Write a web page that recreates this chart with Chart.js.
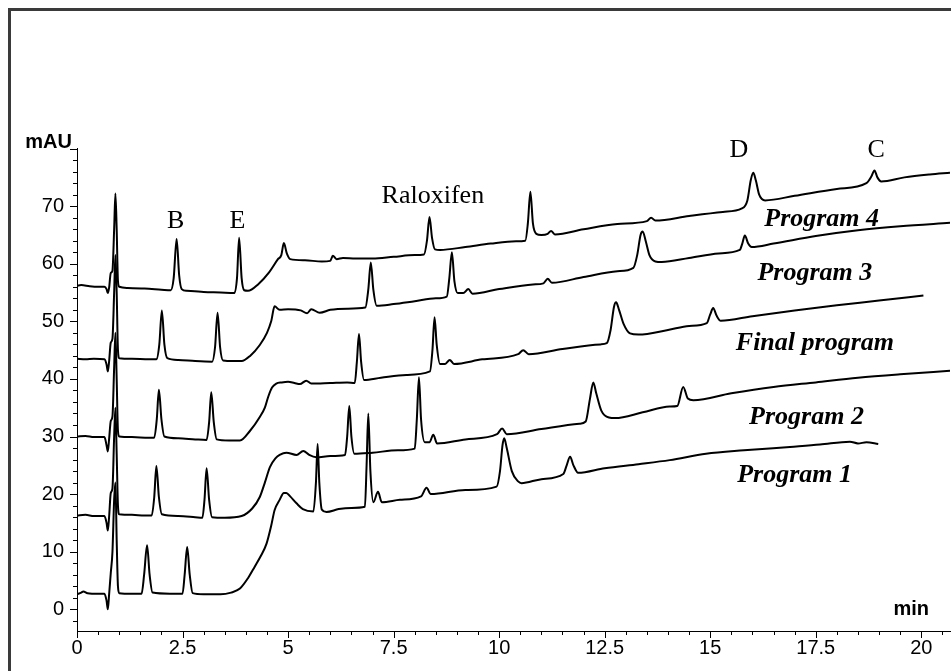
<!DOCTYPE html>
<html>
<head>
<meta charset="utf-8">
<script src="https://cdn.jsdelivr.net/npm/chart.js@4.4.1/dist/chart.umd.min.js"></script>
<style>
  html, body { margin: 0; padding: 0; background: #fff; }
  canvas { display: block; }
</style>
</head>
<body>
<canvas id="chroma" width="951" height="671"></canvas>
<script>
// --- DATA (time in min, signal in mAU) ---
const program4 = [
  [0, 56.2], [0.1, 56.3], [0.3, 56.1], [0.5, 56.0], [0.65, 56.0], [0.7, 55.6], [0.73, 54.9], [0.76, 55.8],
  [0.8, 58.4], [0.84, 58.8], [0.88, 66], [0.91, 72.2], [0.94, 66], [0.97, 57], [1.0, 56.0], [1.2, 55.8],
  [1.6, 55.7], [2.0, 55.5], [2.22, 55.4], [2.29, 57.5], [2.36, 64.3], [2.42, 58], [2.48, 55.6], [2.6, 55.3],
  [3.0, 55.1], [3.4, 55.0], [3.72, 54.9], [3.79, 57.5], [3.84, 64.5], [3.9, 57.5], [3.96, 55.4], [4.05, 55.3],
  [4.3, 56.5], [4.55, 58.5], [4.76, 60.8], [4.84, 61.5], [4.9, 63.6], [4.97, 61.8], [5.05, 60.8], [5.4, 60.6],
  [5.8, 60.4], [6.0, 60.5], [6.06, 61.4], [6.15, 60.8], [6.3, 61.0], [6.6, 60.9], [7.0, 60.9], [7.5, 61.2],
  [8.0, 61.5], [8.22, 61.6], [8.29, 64], [8.35, 68.1], [8.41, 64.5], [8.48, 62.5], [8.6, 62.4], [9.2, 62.9],
  [9.8, 63.5], [10.4, 63.9], [10.62, 64.0], [10.68, 67], [10.74, 72.5], [10.8, 67], [10.88, 65.2], [11.0, 65.0],
  [11.15, 65.2], [11.23, 65.7], [11.32, 65.1], [12.0, 66.0], [12.8, 66.9], [13.5, 67.4], [13.6, 68.0],
  [13.7, 67.5], [14.5, 68.3], [15.3, 69.0], [15.75, 69.6], [15.88, 71], [15.96, 74.5], [16.02, 75.8],
  [16.08, 74.5], [16.16, 72], [16.3, 71.0], [17.0, 71.8], [18.0, 73.0], [18.7, 74.0], [18.82, 75.2],
  [18.89, 76.2], [18.96, 75.0], [19.05, 74.3], [19.6, 75.0], [20.2, 75.5], [20.68, 75.8]
];

const program3 = [
  [0, 43.5], [0.2, 43.4], [0.4, 43.5], [0.65, 43.4], [0.7, 42.5], [0.73, 41.3], [0.76, 43.0], [0.8, 46.3],
  [0.84, 47], [0.88, 55], [0.91, 61.5], [0.94, 55], [0.97, 45], [1.0, 43.6], [1.3, 43.5], [1.7, 43.4],
  [1.88, 43.4], [1.95, 46], [2.01, 51.9], [2.07, 46], [2.14, 43.6], [2.4, 43.3], [2.8, 43.1], [3.2, 43.0],
  [3.27, 45.5], [3.33, 51.5], [3.39, 45.5], [3.46, 43.2], [3.7, 43.1], [3.9, 43.1], [4.1, 44.0], [4.33, 45.9],
  [4.5, 48.0], [4.6, 50.0], [4.68, 52.6], [4.8, 52.0], [5.0, 52.1], [5.3, 51.9], [5.45, 51.4], [5.55, 52.1],
  [5.75, 51.5], [6.0, 52.0], [6.4, 52.2], [6.83, 52.4], [6.9, 55.5], [6.96, 60.2], [7.02, 55.5], [7.1, 52.7],
  [7.5, 53.0], [8.0, 53.5], [8.5, 54.0], [8.76, 54.3], [8.82, 57.5], [8.88, 62.0], [8.94, 57], [9.02, 54.9],
  [9.15, 54.9], [9.27, 55.6], [9.37, 54.8], [10.0, 55.6], [10.8, 56.4], [11.05, 56.6], [11.15, 57.4],
  [11.25, 56.7], [12.0, 57.7], [12.8, 58.7], [13.18, 59.3], [13.27, 61.5], [13.35, 65.0], [13.4, 65.6],
  [13.47, 64], [13.56, 61.5], [13.7, 60.4], [13.85, 60.3], [14.5, 61.0], [15.2, 61.8], [15.7, 62.4],
  [15.76, 63.5], [15.82, 64.9], [15.9, 63.5], [15.98, 62.9], [16.5, 63.5], [17.5, 64.8], [18.5, 65.8],
  [19.5, 66.5], [20.68, 67.1]
];

const finalProgram = [
  [0, 30.0], [0.2, 30.1], [0.4, 29.9], [0.65, 29.9], [0.7, 28.5], [0.73, 27.4], [0.76, 29.5], [0.8, 32.7],
  [0.84, 33.5], [0.88, 42], [0.91, 48], [0.94, 40], [0.97, 31], [1.0, 30.0], [1.3, 29.9], [1.7, 29.8],
  [1.83, 29.8], [1.89, 33], [1.94, 38.1], [2.0, 33], [2.07, 30.0], [2.4, 29.7], [2.8, 29.5], [3.07, 29.4],
  [3.13, 32.5], [3.18, 37.7], [3.24, 32.5], [3.31, 29.5], [3.6, 29.3], [3.86, 29.3], [4.1, 31.0], [4.33, 33.4],
  [4.45, 35.0], [4.53, 36.9], [4.62, 38.5], [4.72, 39.2], [4.85, 39.4], [5.0, 39.5], [5.15, 39.3], [5.28, 39.1],
  [5.43, 39.7], [5.55, 39.2], [6.0, 39.3], [6.4, 39.4], [6.58, 39.3], [6.63, 43], [6.68, 47.8], [6.73, 43],
  [6.8, 39.8], [7.2, 40.2], [7.8, 40.7], [8.36, 41.3], [8.42, 45], [8.47, 50.7], [8.52, 46], [8.6, 42.6],
  [8.72, 42.6], [8.83, 43.3], [8.93, 42.6], [9.6, 43.4], [10.45, 44.3], [10.57, 45.0], [10.7, 44.3],
  [11.5, 45.2], [12.4, 46.0], [12.55, 46.2], [12.64, 48.5], [12.72, 52.5], [12.77, 53.3], [12.84, 52],
  [12.95, 49.5], [13.1, 47.9], [13.3, 47.7], [14.0, 48.5], [14.5, 49.2], [14.92, 49.7], [15.0, 51.2],
  [15.07, 52.3], [15.15, 51], [15.25, 50.1], [16.0, 50.9], [17.0, 51.9], [18.0, 52.8], [19.0, 53.6],
  [20.05, 54.5]
];

const program2 = [
  [0, 16.3], [0.2, 16.4], [0.4, 16.2], [0.65, 16.2], [0.7, 15], [0.73, 13.7], [0.76, 16], [0.8, 20.2],
  [0.84, 21], [0.88, 30], [0.91, 35], [0.94, 27], [0.97, 18], [1.0, 16.5], [1.3, 16.4], [1.6, 16.3],
  [1.77, 16.3], [1.83, 19.5], [1.88, 24.9], [1.94, 19.5], [2.01, 16.5], [2.4, 16.2], [2.8, 16.0], [2.97, 15.9],
  [3.02, 19], [3.07, 24.5], [3.13, 19], [3.2, 16.0], [3.5, 15.9], [3.9, 16.2], [4.15, 17.5], [4.33, 19.5],
  [4.45, 22.0], [4.57, 24.7], [4.7, 26.2], [4.8, 26.8], [4.96, 27.2], [5.2, 26.8], [5.36, 27.5], [5.5, 26.8],
  [5.67, 26.4], [6.0, 26.6], [6.35, 26.8], [6.4, 30], [6.45, 35.3], [6.5, 30], [6.57, 27.0], [7.0, 27.2],
  [7.6, 27.6], [8.0, 27.9], [8.05, 33], [8.1, 40.3], [8.15, 33], [8.24, 29.0], [8.35, 29.0], [8.44, 30.3],
  [8.53, 28.8], [9.2, 29.5], [9.95, 30.4], [10.07, 31.4], [10.18, 30.4], [11.0, 31.3], [11.9, 32.2],
  [12.05, 32.6], [12.15, 36.5], [12.23, 39.4], [12.3, 37.5], [12.42, 34.5], [12.6, 33.3], [12.75, 33.2],
  [13.4, 34.2], [14.04, 35.2], [14.22, 35.3], [14.36, 38.6], [14.47, 36.6], [14.6, 36.3], [15.5, 37.5],
  [16.5, 38.6], [17.5, 39.4], [18.5, 40.2], [19.5, 40.8], [20.68, 41.4]
];

const program1 = [
  [0, 2.6], [0.1, 2.9], [0.15, 3.1], [0.25, 2.8], [0.5, 2.7], [0.65, 2.7], [0.7, 1.5], [0.73, 0.0],
  [0.76, 2.5], [0.8, 6.3], [0.84, 10], [0.88, 19], [0.91, 22], [0.94, 12], [0.97, 4], [1.0, 2.8],
  [1.3, 2.7], [1.53, 2.7], [1.59, 6], [1.66, 11.1], [1.72, 6], [1.79, 2.9], [2.2, 2.7], [2.5, 2.7],
  [2.55, 6], [2.61, 10.8], [2.67, 6], [2.74, 2.8], [3.0, 2.6], [3.4, 2.6], [3.65, 2.9], [3.86, 3.6],
  [4.05, 5.4], [4.21, 7.4], [4.35, 9.2], [4.49, 11.4], [4.6, 14.5], [4.68, 17.2], [4.8, 19.0], [4.9, 20.2],
  [4.96, 20.2], [5.05, 19.6], [5.2, 18.4], [5.35, 17.4], [5.6, 17.0], [5.66, 22], [5.7, 28.7], [5.74, 22],
  [5.8, 17.3], [5.91, 16.9], [6.2, 17.4], [6.5, 17.6], [6.82, 17.8], [6.86, 25], [6.9, 34.0], [6.95, 24],
  [7.02, 18.6], [7.13, 20.4], [7.22, 18.6], [7.65, 19.0], [8.15, 19.6], [8.28, 21.1], [8.38, 20.0],
  [9.2, 20.7], [9.94, 21.3], [10.02, 24], [10.08, 28.5], [10.12, 29.7], [10.18, 28], [10.3, 24],
  [10.45, 22.2], [10.53, 21.9], [11.0, 22.6], [11.52, 23.5], [11.6, 25], [11.68, 26.5], [11.76, 25],
  [11.87, 23.7], [12.5, 24.5], [13.3, 25.2], [14.04, 25.9], [14.9, 27.0], [15.8, 27.6], [16.89, 28.2],
  [17.6, 28.6], [18.31, 29.1], [18.5, 28.8], [18.7, 29.0], [18.98, 28.7]
];

const seriesNames = ['Program 4', 'Program 3', 'Final program', 'Program 2', 'Program 1'];
const seriesData = [program4, program3, finalProgram, program2, program1];

// peak labels: [text, min, mAU]
const peakLabels = [['B', 2.34, 67.4], ['E', 3.8, 67.4], ['Raloxifen', 8.43, 71.7], ['D', 15.68, 79.8], ['C', 18.93, 79.8]];
// trace labels: [text, min, mAU]
const traceLabels = [['Program 4', 17.64, 67.8], ['Program 3', 17.48, 58.4], ['Final program', 17.48, 46.2],
  ['Program 2', 17.28, 33.4], ['Program 1', 17.0, 23.3]];

const X_MIN = 0, X_MAX = 20.68, Y_MIN = -3.77, Y_MAX = 80.1;

// --- PLUGIN: frame, minor/major ticks, axis titles, annotations ---
const decor = {
  id: 'decor',
  beforeDraw(chart) {
    const ctx = chart.ctx;
    ctx.save();
    ctx.fillStyle = '#fff';
    ctx.fillRect(0, 0, chart.width, chart.height);
    // cadre
    ctx.strokeStyle = '#3a3a3a';
    ctx.lineWidth = 3;
    ctx.beginPath();
    ctx.moveTo(9.5, chart.height + 2);
    ctx.lineTo(9.5, 9.5);
    ctx.lineTo(chart.width + 2, 9.5);
    ctx.stroke();
    ctx.restore();
  },
  afterDraw(chart) {
    const ctx = chart.ctx;
    const xs = chart.scales.x, ys = chart.scales.y;
    const area = chart.chartArea;
    ctx.save();
    ctx.strokeStyle = '#000';
    ctx.lineWidth = 1;
    ctx.beginPath();
    for (let v = 0; v <= X_MAX + 1e-9; v += 0.5) {
      const px = Math.round(xs.getPixelForValue(v)) + 0.5;
      const len = Math.abs(v / 2.5 - Math.round(v / 2.5)) < 1e-6 ? 7 : 4;
      ctx.moveTo(px, area.bottom);
      ctx.lineTo(px, area.bottom + len);
    }
    for (let v = -2; v <= Y_MAX; v += 2) {
      const py = Math.round(ys.getPixelForValue(v)) + 0.5;
      const len = v % 10 === 0 ? 7 : 4;
      ctx.moveTo(area.left - len, py);
      ctx.lineTo(area.left, py);
    }
    ctx.stroke();

    // titres d'axes
    ctx.fillStyle = '#000';
    ctx.font = 'bold 20px "Liberation Sans", Arial, sans-serif';
    ctx.textAlign = 'right';
    ctx.textBaseline = 'alphabetic';
    ctx.fillText('mAU', 72, 148);
    ctx.fillText('min', 929, 615);

    // étiquettes des pics
    ctx.font = '26px "Liberation Serif", "Times New Roman", serif';
    ctx.textAlign = 'center';
    ctx.textBaseline = 'middle';
    peakLabels.forEach(([t, x, y]) => {
      ctx.fillText(t, xs.getPixelForValue(x), ys.getPixelForValue(y));
    });

    // noms des programmes
    ctx.font = 'italic bold 26px "Liberation Serif", "Times New Roman", serif';
    traceLabels.forEach(([t, x, y]) => {
      ctx.fillText(t, xs.getPixelForValue(x), ys.getPixelForValue(y));
    });
    ctx.restore();
  }
};

const ctx = document.getElementById('chroma').getContext('2d');
new Chart(ctx, {
  type: 'line',
  data: {
    datasets: seriesData.map((pts, i) => ({
      label: seriesNames[i],
      data: pts.map(p => ({ x: p[0], y: p[1] })),
      borderColor: '#000',
      borderWidth: 2,
      pointRadius: 0,
      fill: false,
      cubicInterpolationMode: 'monotone'
    }))
  },
  options: {
    responsive: false,
    animation: false,
    devicePixelRatio: 1,
    layout: { padding: { top: 148, right: 1, left: 0, bottom: 0 } },
    plugins: { legend: { display: false }, tooltip: { enabled: false } },
    scales: {
      x: {
        type: 'linear',
        min: X_MIN, max: X_MAX,
        grid: { display: false, drawTicks: false },
        border: { display: true, color: '#000', width: 1 },
        ticks: {
          stepSize: 2.5, includeBounds: false, padding: 5, maxRotation: 0, autoSkip: false,
          color: '#000', font: { family: '"Liberation Sans", Arial, sans-serif', size: 20 },
          callback: v => String(v)
        },
        afterFit: s => { s.height = 40; }
      },
      y: {
        type: 'linear',
        min: Y_MIN, max: Y_MAX,
        grid: { display: false, drawTicks: false },
        border: { display: true, color: '#000', width: 1 },
        ticks: {
          stepSize: 10, includeBounds: false, padding: 13, autoSkip: false,
          color: '#000', font: { family: '"Liberation Sans", Arial, sans-serif', size: 20 },
          callback: v => (v <= 70 ? String(v) : '')
        },
        afterFit: s => { s.width = 77; }
      }
    }
  },
  plugins: [decor]
});
</script>
</body>
</html>
